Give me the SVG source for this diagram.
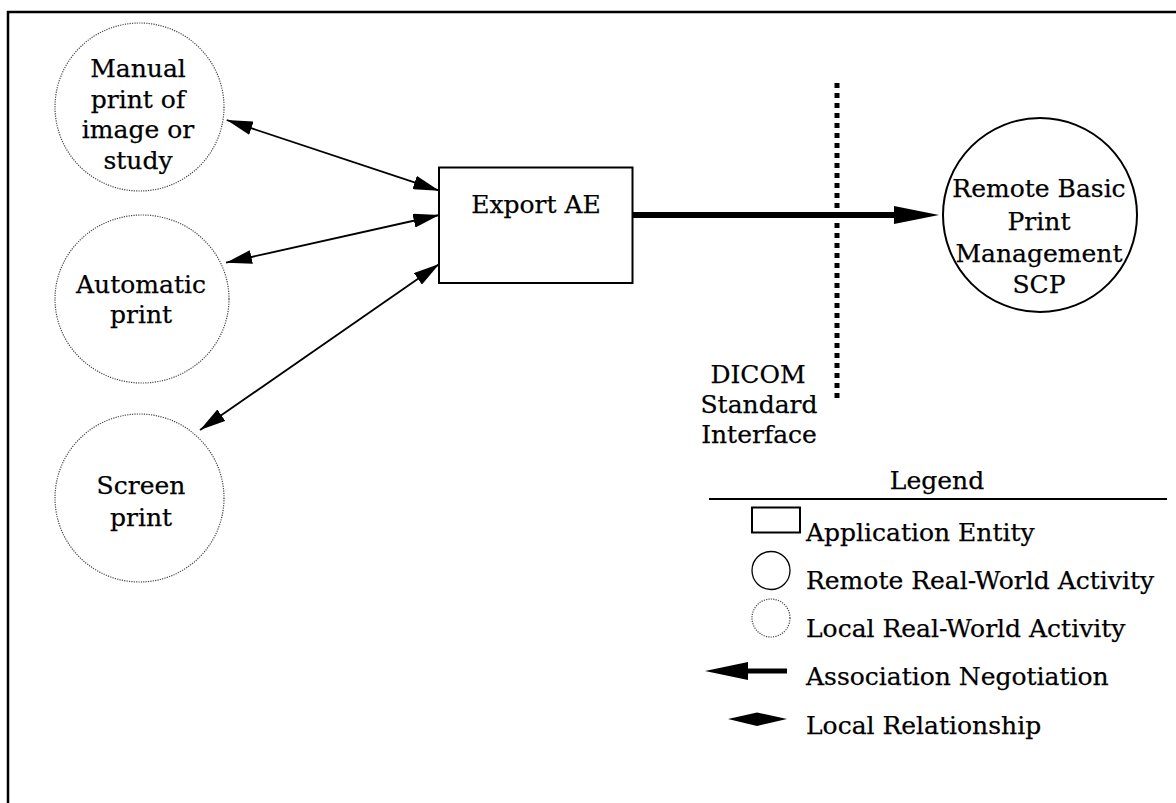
<svg xmlns="http://www.w3.org/2000/svg" width="1176" height="803" viewBox="0 0 1176 803">
<style>
text{font-family:"DejaVu Serif","Liberation Serif",serif;font-size:25px;fill:#000;stroke:#000;stroke-width:0.25;text-anchor:middle}
.lg{text-anchor:start}
.local{fill:none;stroke:#444;stroke-width:1.2;stroke-dasharray:1.2 1.2}
.remote{fill:none;stroke:#000;stroke-width:2}
.thin{stroke:#000;stroke-width:1.8;fill:none}
</style>
<defs>
<marker id="ah" markerUnits="userSpaceOnUse" viewBox="0 0 26 14" refX="26" refY="7" markerWidth="26" markerHeight="14" orient="auto-start-reverse">
<path d="M0,0 L26,7 L0,14 Z" fill="#000"/>
</marker>
</defs>
<rect width="1176" height="803" fill="#fff"/>
<path d="M8,803 V12 H1176" fill="none" stroke="#000" stroke-width="2.5"/>

<g id="manual">
<ellipse class="local" cx="139.5" cy="107" rx="84.5" ry="84"/>
<text x="138" y="77">Manual</text>
<text x="138" y="107.5">print of</text>
<text x="138" y="138">image or</text>
<text x="138" y="168.5">study</text>
</g>
<g id="automatic">
<ellipse class="local" cx="142" cy="299" rx="87" ry="84"/>
<text x="141" y="292.5">Automatic</text>
<text x="141" y="323">print</text>
</g>
<g id="screen">
<ellipse class="local" cx="139.5" cy="498" rx="84.5" ry="84"/>
<text x="141" y="494">Screen</text>
<text x="141" y="526">print</text>
</g>
<g id="export">
<rect x="439" y="167.5" width="193.5" height="115.5" fill="#fff" stroke="#000" stroke-width="2"/>
<text x="536" y="212.5">Export AE</text>
</g>
<g id="remote">
<circle class="remote" cx="1040" cy="215" r="97"/>
<text x="1039" y="196.5">Remote Basic</text>
<text x="1039" y="229.5">Print</text>
<text x="1039" y="261.5">Management</text>
<text x="1039" y="293">SCP</text>
</g>
<g id="interface">
<line x1="837" y1="83" x2="837" y2="400" stroke="#000" stroke-width="5" stroke-dasharray="5 5"/>
<text x="758" y="383">DICOM</text>
<text x="759" y="413">Standard</text>
<text x="759" y="442.5">Interface</text>
</g>
<g id="connectors">
<line class="thin" x1="226.7" y1="120" x2="439.3" y2="190.7" marker-start="url(#ah)" marker-end="url(#ah)"/>
<line class="thin" x1="226" y1="262.7" x2="439.3" y2="215" marker-start="url(#ah)" marker-end="url(#ah)"/>
<line class="thin" x1="200" y1="430" x2="439.3" y2="264" marker-start="url(#ah)" marker-end="url(#ah)"/>
<line x1="632.5" y1="215" x2="896" y2="215" stroke="#000" stroke-width="6"/>
<path d="M894,206 L939,215 L894,224 Z" fill="#000"/>
</g>
<g id="legend">
<text x="937" y="488.5">Legend</text>
<line x1="709" y1="499" x2="1167" y2="499" stroke="#000" stroke-width="2"/>
<rect x="752" y="507.5" width="48" height="25" fill="none" stroke="#000" stroke-width="2"/>
<text class="lg" x="806" y="541">Application Entity</text>
<circle cx="771" cy="570.5" r="19" fill="none" stroke="#000" stroke-width="1.3"/>
<text class="lg" x="806" y="588.5">Remote Real-World Activity</text>
<circle class="local" cx="771" cy="618" r="19"/>
<text class="lg" x="806" y="637">Local Real-World Activity</text>
<path d="M705,671 L748,662 L748,668.5 L787,668.5 L787,673.5 L748,673.5 L748,680 Z" fill="#000"/>
<text class="lg" x="806" y="685">Association Negotiation</text>
<path d="M728,719 L757,712.5 L787,719 L757,726 Z" fill="#000"/>
<text class="lg" x="806" y="733.5">Local Relationship</text>
</g>
</svg>
